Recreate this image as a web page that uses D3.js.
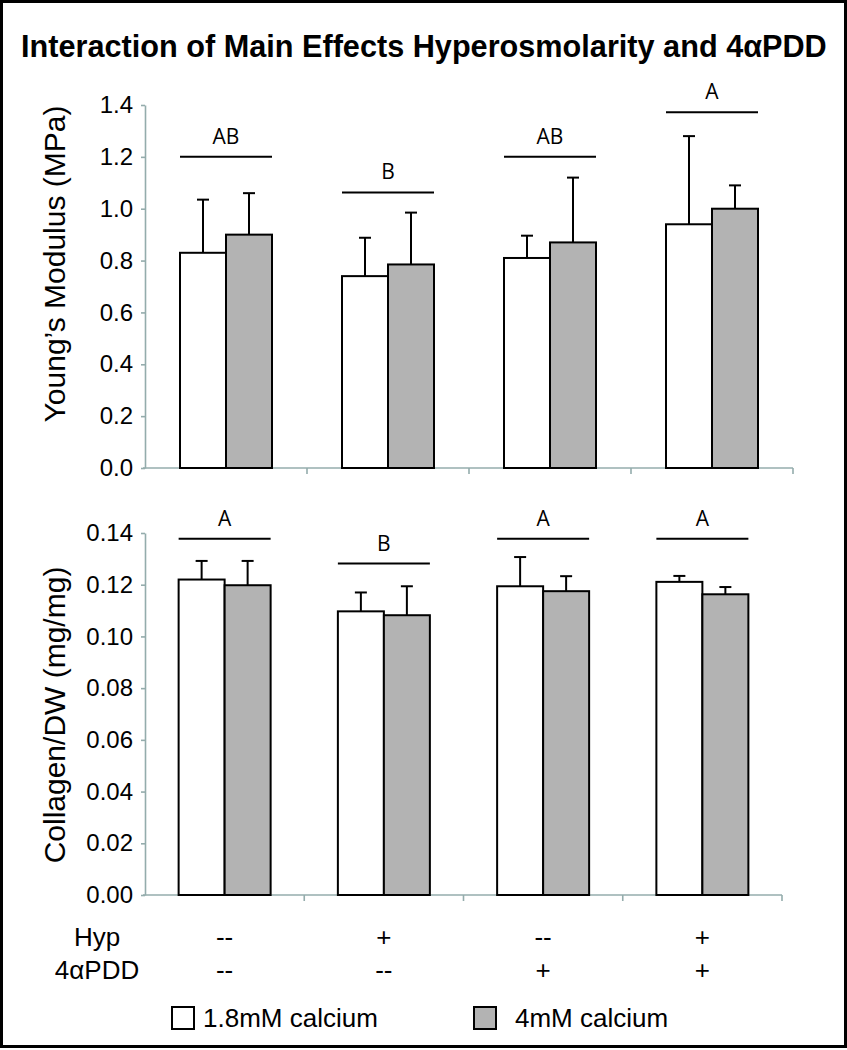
<!DOCTYPE html>
<html>
<head>
<meta charset="utf-8">
<script src="https://cdn.jsdelivr.net/npm/d3@7"></script>
<style>
  html, body { margin: 0; padding: 0; background: #fff; }
  svg { display: block; }
</style>
</head>
<body>
<svg id="chart" width="847" height="1050"></svg>
<script>
// ---------- data ----------
const categories = ["G1", "G2", "G3", "G4"];
const hypLabels = ["--", "+", "--", "+"];
const pddLabels = ["--", "--", "+", "+"];
const seriesNames = ["1.8mM calcium", "4mM calcium"];
const seriesColors = ["#ffffff", "#b3b3b3"];

const modulusLow = [0.83, 0.74, 0.81, 0.94];
const modulusLowSD = [0.205, 0.148, 0.086, 0.34];
const modulusHigh = [0.90, 0.785, 0.87, 1.00];
const modulusHighSD = [0.16, 0.20, 0.25, 0.09];
const modulusLetters = ["AB", "B", "AB", "A"];
const modulusLetterLevel = [1.2, 1.063, 1.2, 1.372];
const modulusTicks = [0, 0.2, 0.4, 0.6, 0.8, 1.0, 1.2, 1.4];

const collagenLow = [0.122, 0.1097, 0.1194, 0.1211];
const collagenLowSD = [0.0072, 0.0073, 0.0113, 0.0023];
const collagenHigh = [0.1198, 0.1082, 0.1175, 0.1163];
const collagenHighSD = [0.0094, 0.0112, 0.0058, 0.0028];
const collagenLetters = ["A", "B", "A", "A"];
const collagenLetterLevel = [0.1378, 0.1282, 0.1378, 0.1378];
const collagenTicks = [0, 0.02, 0.04, 0.06, 0.08, 0.10, 0.12, 0.14];

// ---------- drawing ----------
const svg = d3.select("#chart");
const AXIS = "#94acac";
const SANS = "'Liberation Sans', Arial, sans-serif";

// frame
svg.append("rect").attr("x", 1.5).attr("y", 1.5).attr("width", 844).attr("height", 1045)
  .attr("fill", "none").attr("stroke", "#000").attr("stroke-width", 3);

// title (condensed by horizontal scaling to fit the reference width)
const titleG = svg.append("g");
const title = titleG.append("text")
  .attr("x", 0).attr("y", 0)
  .style("font-family", "'Liberation Sans Narrow', 'Liberation Sans', Arial, sans-serif")
  .style("font-weight", "bold").style("font-size", "32px")
  .text("Interaction of Main Effects Hyperosmolarity and 4\u03b1PDD");
const tw = title.node().getComputedTextLength();
const sx = Math.min(1, 806 / tw);
titleG.attr("transform", `translate(21,57) scale(${sx},1)`);

function panel(opts) {
  const { left, right, top, bottom, max, ticks, fmt, low, lowSD, high, highSD,
          letters, letterLevel, ylabel, ylabelY } = opts;
  const g = svg.append("g");
  const x0 = d3.scaleBand().domain(categories).range([left, right]).padding(0);
  const y = d3.scaleLinear().domain([0, max]).range([bottom, top]);
  const barW = 46;
  const x1 = d3.scaleBand().domain(seriesNames).range([-barW, barW]);

  // y axis
  const ya = g.append("g").attr("transform", `translate(${left},0)`)
    .call(d3.axisLeft(y).tickValues(ticks).tickFormat(fmt).tickSize(4).tickSizeOuter(0).tickPadding(8));
  ya.select(".domain").attr("stroke", AXIS).attr("stroke-width", 1.6);
  ya.selectAll(".tick line").attr("stroke", AXIS).attr("stroke-width", 1.6);
  ya.selectAll(".tick text").attr("fill", "#000")
    .style("font-family", SANS).style("font-size", "24px");

  // x axis line + boundary ticks
  g.append("line").attr("x1", left - 2).attr("x2", right).attr("y1", bottom).attr("y2", bottom)
    .attr("stroke", AXIS).attr("stroke-width", 1.6);
  const bounds = categories.map(c => x0(c) + x0.bandwidth());
  g.selectAll(".xt").data(bounds).enter().append("line")
    .attr("x1", d => d).attr("x2", d => d).attr("y1", bottom).attr("y2", bottom + 6)
    .attr("stroke", AXIS).attr("stroke-width", 1.6);

  const rows = [];
  categories.forEach((c, i) => {
    rows.push({ c, s: seriesNames[0], v: low[i], e: lowSD[i], fill: seriesColors[0] });
    rows.push({ c, s: seriesNames[1], v: high[i], e: highSD[i], fill: seriesColors[1] });
  });
  const cx = d => x0(d.c) + x0.bandwidth() / 2 + x1(d.s);

  // error bars (drawn first, bars on top)
  g.selectAll(".eb").data(rows).enter().append("line")
    .attr("x1", d => cx(d) + x1.bandwidth() / 2).attr("x2", d => cx(d) + x1.bandwidth() / 2)
    .attr("y1", d => y(d.v)).attr("y2", d => y(d.v + d.e))
    .attr("stroke", "#000").attr("stroke-width", 2);
  g.selectAll(".ec").data(rows).enter().append("line")
    .attr("x1", d => cx(d) + x1.bandwidth() / 2 - 6).attr("x2", d => cx(d) + x1.bandwidth() / 2 + 6)
    .attr("y1", d => y(d.v + d.e)).attr("y2", d => y(d.v + d.e))
    .attr("stroke", "#000").attr("stroke-width", 2);

  g.selectAll(".bar").data(rows).enter().append("rect")
    .attr("x", d => cx(d)).attr("width", x1.bandwidth())
    .attr("y", d => y(d.v)).attr("height", d => y(0) - y(d.v))
    .attr("fill", d => d.fill).attr("stroke", "#000").attr("stroke-width", 2);

  // significance letters
  categories.forEach((c, i) => {
    const mid = x0(c) + x0.bandwidth() / 2;
    const ly = y(letterLevel[i]);
    g.append("line").attr("x1", mid - barW).attr("x2", mid + barW).attr("y1", ly).attr("y2", ly)
      .attr("stroke", "#000").attr("stroke-width", 2);
    g.append("text").attr("x", mid).attr("y", ly - 13).attr("text-anchor", "middle")
      .style("font-family", "'Open Sans', sans-serif").style("font-size", "21px")
      .text(letters[i]);
  });

  // y label
  g.append("text").attr("transform", `translate(65,${ylabelY}) rotate(-90)`)
    .attr("text-anchor", "middle")
    .style("font-family", SANS).style("font-size", "30px")
    .text(ylabel);
  return x0;
}

panel({ left: 145, right: 793, top: 105, bottom: 468, max: 1.4, ticks: modulusTicks,
  fmt: d3.format(".1f"), low: modulusLow, lowSD: modulusLowSD, high: modulusHigh, highSD: modulusHighSD,
  letters: modulusLetters, letterLevel: modulusLetterLevel,
  ylabel: "Young\u2019s Modulus (MPa)", ylabelY: 264 });

const xb = panel({ left: 145, right: 782, top: 533, bottom: 895, max: 0.14, ticks: collagenTicks,
  fmt: d3.format(".2f"), low: collagenLow, lowSD: collagenLowSD, high: collagenHigh, highSD: collagenHighSD,
  letters: collagenLetters, letterLevel: collagenLetterLevel,
  ylabel: "Collagen/DW (mg/mg)", ylabelY: 715 });

// treatment rows
const rowFont = "26px";
svg.append("text").attr("x", 97).attr("y", 946).attr("text-anchor", "middle")
  .style("font-family", SANS).style("font-size", rowFont).text("Hyp");
svg.append("text").attr("x", 97).attr("y", 979).attr("text-anchor", "middle")
  .style("font-family", SANS).style("font-size", rowFont).text("4\u03b1PDD");
svg.selectAll(".hyp").data(categories).enter().append("text")
  .attr("x", c => xb(c) + xb.bandwidth() / 2).attr("y", 946).attr("text-anchor", "middle")
  .style("font-family", SANS).style("font-size", rowFont)
  .text((c, i) => hypLabels[i]);
svg.selectAll(".pdd").data(categories).enter().append("text")
  .attr("x", c => xb(c) + xb.bandwidth() / 2).attr("y", 979).attr("text-anchor", "middle")
  .style("font-family", SANS).style("font-size", rowFont)
  .text((c, i) => pddLabels[i]);

// legend
const legendX = [172, 474];
const legendTextX = [203, 515];
seriesNames.forEach((s, i) => {
  svg.append("rect").attr("x", legendX[i]).attr("y", 1007).attr("width", 22).attr("height", 22)
    .attr("fill", seriesColors[i]).attr("stroke", "#000").attr("stroke-width", 2);
  svg.append("text").attr("x", legendTextX[i]).attr("y", 1027)
    .style("font-family", SANS).style("font-size", "26px").text(s);
});
</script>
</body>
</html>
